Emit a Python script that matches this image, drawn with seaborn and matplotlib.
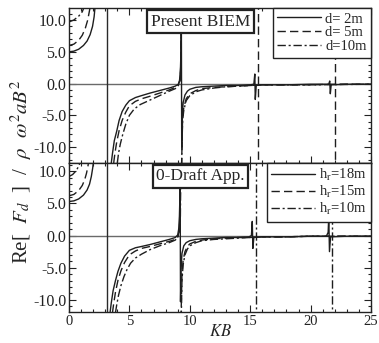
import matplotlib
matplotlib.use("Agg")
import matplotlib.pyplot as plt
import seaborn as sns
import pandas as pd
from matplotlib.lines import Line2D
from matplotlib.ticker import MultipleLocator

# ---------------- data (None separates branches of one curve) ----------------
# Top panel: Present BIEM, draft d
top_kb_d2 = [0, 0.4, 0.8, 1.2, 1.5, 1.75, 1.95, 2.08, 2.18, None,
             3.5, 3.6, 3.75, 3.95, 4.15, 4.4, 4.7, 5.0, 5.5, 6.0, 6.7, 7.5, 8.3, 8.8, 9.05, 9.15, 9.22, 9.27, 9.3, 9.33,
             9.38, 9.45, 9.6, 9.8, 10.0, 10.5, 11.0, 12.0, 13.0, 14.0, 15.0, 15.3, 15.38, 15.42, 15.5, 16.0, 18.0, 20.0,
             21.5, 21.58, 21.63, 21.7, 23.0, 25.0]
top_f_d2 = [5.0, 5.1, 5.4, 6.0, 6.7, 7.7, 9.0, 10.5, 12.5, None,
            -12.5, -11.0, -9.0, -7.5, -5.8, -4.4, -3.4, -2.7, -2.2, -1.9, -1.5, -1.1, -0.7, -0.4, -0.1, 0.5, 2.0, 5.0, 10.5, -10.0,
            -5.0, -3.0, -1.8, -1.2, -0.9, -0.6, -0.5, -0.4, -0.3, -0.3, -0.2, -0.1, 1.5, -2.5, -0.3, -0.2, -0.2, -0.1,
            -0.1, 0.4, -1.6, -0.2, -0.1, -0.1]

top_kb_d5 = [0, 0.4, 0.8, 1.1, 1.35, 1.55, 1.7, 1.8, None,
             3.7, 3.8, 3.95, 4.15, 4.4, 4.7, 5.0, 5.5, 6.0, 6.7, 7.5, 8.3, 8.8, 9.05, 9.18, 9.26, 9.3, None,
             9.32, 9.4, 9.5, 9.7, 10.0, 10.5, 11.0, 12.0, 13.0, 14.0, 15.0, 16.0, 18.0, 20.0, 22.0, 25.0, None,
             15.65, 15.65, None, 22.0, 22.0]
top_f_d5 = [6.0, 6.2, 6.8, 7.6, 8.7, 10.0, 11.5, 12.5, None,
            -12.5, -11.0, -9.2, -7.4, -5.8, -4.5, -3.5, -2.8, -2.4, -2.0, -1.5, -1.0, -0.6, -0.2, 0.5, 3.0, 13.0, None,
            -13.0, -5.5, -3.8, -2.4, -1.6, -1.1, -0.8, -0.6, -0.5, -0.4, -0.3, -0.2, -0.2, -0.2, -0.1, -0.1, None,
            13.0, -13.0, None, 13.0, -13.0]

top_kb_d10 = [0, 0.4, 0.8, 1.1, 1.35, None,
              4.0, 4.1, 4.25, 4.45, 4.7, 5.0, 5.4, 5.9, 6.7, 7.5, 8.3, 8.8, 9.05, 9.2, 9.28, 9.3, None,
              9.32, 9.4, 9.5, 9.7, 10.0, 10.5, 11.0, 12.0, 13.0, 14.0, 15.0, 16.0, 20.0, 25.0]
top_f_d10 = [9.7, 10.0, 10.6, 11.3, 12.5, None,
             -12.5, -11.0, -9.5, -8.0, -6.4, -5.0, -4.0, -3.3, -2.6, -1.9, -1.2, -0.8, -0.3, 0.5, 3.0, 13.0, None,
             -13.0, -6.0, -4.2, -2.7, -1.9, -1.3, -1.0, -0.7, -0.5, -0.4, -0.3, -0.2, -0.2, -0.1]

# Bottom panel: 0-Draft approximation, h_r
bot_kb_h18 = [0, 0.4, 0.8, 1.2, 1.5, 1.7, 1.85, 1.97, 2.05, None,
              3.4, 3.5, 3.65, 3.85, 4.05, 4.3, 4.6, 5.0, 5.5, 6.0, 6.7, 7.5, 8.3, 8.8, 9.0, 9.08, 9.14, 9.18, 9.2, 9.23,
              9.28, 9.35, 9.5, 9.7, 10.0, 10.5, 11.0, 12.0, 13.0, 14.0, 14.9, 15.1, 15.17, 15.22, 15.3, 16.0, 18.0, 20.0,
              21.3, 21.45, 21.5, 21.56, 21.65, 23.0, 25.0]
bot_f_h18 = [5.3, 5.4, 5.7, 6.3, 7.1, 8.0, 9.2, 10.6, 12.0, None,
             -12.0, -10.5, -8.6, -7.0, -5.6, -4.3, -3.2, -2.3, -1.9, -1.7, -1.4, -1.0, -0.6, -0.3, 0.1, 1.0, 3.0, 6.0, 10.0, -10.3,
             -5.0, -2.8, -1.6, -1.1, -0.8, -0.6, -0.5, -0.4, -0.3, -0.3, -0.2, 0.0, 2.2, -2.0, -0.3, -0.2, -0.2, -0.1,
             -0.1, 0.5, 3.0, -2.5, -0.2, -0.1, -0.1]

bot_kb_h15 = [0, 0.4, 0.8, 1.1, 1.3, 1.45, 1.57, 1.66, None,
              3.6, 3.7, 3.85, 4.05, 4.3, 4.6, 5.0, 5.5, 6.0, 6.7, 7.5, 8.3, 8.8, 9.0, 9.12, 9.2, 9.25, None,
              9.27, 9.35, 9.45, 9.6, 9.8, 10.0, 10.5, 11.0, 12.0, 13.0, 14.0, 15.0, 16.0, 18.0, 20.0, 22.0, 25.0]
bot_f_h15 = [6.2, 6.4, 7.0, 7.8, 8.7, 9.7, 10.8, 12.0, None,
             -12.0, -10.6, -8.8, -7.0, -5.5, -4.2, -3.0, -2.4, -2.0, -1.7, -1.3, -0.9, -0.6, -0.2, 0.6, 3.0, 13.0, None,
             -13.0, -6.0, -3.8, -2.5, -1.7, -1.3, -0.9, -0.7, -0.5, -0.4, -0.3, -0.3, -0.2, -0.2, -0.1, -0.1, -0.1]

bot_kb_h10 = [0, 0.3, 0.6, 0.8, 0.95, None,
              3.85, 3.95, 4.1, 4.3, 4.55, 4.8, 5.1, 5.5, 6.0, 6.7, 7.5, 8.3, 8.8, 9.0, 9.15, 9.22, 9.27, None,
              9.29, 9.35, 9.45, 9.6, 9.8, 10.0, 10.5, 11.0, 12.0, 13.0, 14.0, 15.0, 16.0, 18.0, 20.0, 25.0, None,
              15.5, 15.5, None, 21.8, 21.8]
bot_f_h10 = [9.2, 9.5, 10.1, 10.8, 11.5, None,
             -12.0, -10.8, -9.3, -7.8, -6.4, -5.3, -4.3, -3.5, -2.9, -2.2, -1.6, -1.1, -0.7, -0.3, 0.5, 3.0, 13.0, None,
             -13.0, -7.0, -4.5, -3.0, -2.1, -1.6, -1.1, -0.8, -0.6, -0.5, -0.4, -0.3, -0.2, -0.2, -0.1, -0.1, None,
             13.0, -13.0, None, 13.0, -13.0]

ref_kb = [3.14]
top_labels = ["d= 2m", "d= 5m", "d=10m"]
bot_labels = [r"h$_{\mathrm{r}}$=18m", r"h$_{\mathrm{r}}$=15m", r"h$_{\mathrm{r}}$=10m"]
top_title = "Present BIEM"
bot_title = "0-Draft App."
x_ticks = [0, 5, 10, 15, 20, 25]
y_ticks = [-10, -5, 0, 5, 10]
y_ticklabels = ["-10.0", "-5.0", "0.0", "5.0", "10.0"]

# ---------------- styling ----------------
sns.set_style("ticks")
plt.rcParams["font.family"] = ["Liberation Serif", "DejaVu Serif"]
plt.rcParams["mathtext.fontset"] = "stix"

LINE_C = "#1e1e1e"
styles = ["-", (0, (6, 3)), (0, (6, 2, 1.5, 2))]


def to_frame(kb, val):
    rows, unit = [], 0
    for k, v in zip(kb, val):
        if k is None:
            unit += 1
            continue
        rows.append((k, v, unit))
    return pd.DataFrame(rows, columns=["KB", "F", "unit"])


fig = plt.figure(figsize=(3.79, 3.43), dpi=100)
ax1 = fig.add_axes([0.182, 0.5248, 0.797, 0.452])
ax2 = fig.add_axes([0.182, 0.0904, 0.797, 0.4344])

panels = [
    (ax1, [(top_kb_d2, top_f_d2), (top_kb_d5, top_f_d5), (top_kb_d10, top_f_d10)], top_labels, top_title, (-12.5, 11.9)),
    (ax2, [(bot_kb_h18, bot_f_h18), (bot_kb_h15, bot_f_h15), (bot_kb_h10, bot_f_h10)], bot_labels, bot_title, (-11.9, 11.3)),
]

for ax, series, labels, title, ylim in panels:
    ax.axhline(0, color="#6a6a6a", lw=1.0, zorder=1)
    for k in ref_kb:
        ax.axvline(k, color="#2a2a2a", lw=1.0, zorder=1)
    handles = []
    for (kb, f), ls in zip(series, styles):
        df = to_frame(kb, f)
        sns.lineplot(data=df, x="KB", y="F", units="unit", estimator=None, sort=False,
                     ax=ax, color=LINE_C, lw=1.0, linestyle=ls, legend=False)
        handles.append(Line2D([], [], color=LINE_C, lw=1.0, linestyle=ls))
    ax.set_xlim(0, 25)
    ax.set_ylim(*ylim)
    ax.set_xticks(x_ticks)
    ax.set_yticks(y_ticks)
    ax.set_yticklabels(y_ticklabels)
    ax.xaxis.set_minor_locator(MultipleLocator(1))
    ax.yaxis.set_minor_locator(MultipleLocator(1))
    ax.tick_params(which="both", direction="in", top=True, right=True, colors="#222222",
                   labelsize=11.5, pad=2, width=0.8)
    ax.tick_params(axis="x", labelsize=10.5)
    ax.tick_params(which="major", length=5)
    ax.tick_params(which="minor", length=2.5)
    for s in ax.spines.values():
        s.set_linewidth(1.0)
        s.set_color("#222222")
    ax.set_xlabel("")
    ax.set_ylabel("")
    leg = ax.legend(handles, labels, loc="upper right", borderaxespad=0, frameon=True, fancybox=False,
                    edgecolor="#222222", framealpha=1, fontsize=10.5, handlelength=3.0,
                    labelspacing=0.05, borderpad=0.3, handletextpad=0.3)
    leg.get_frame().set_linewidth(1.0)
    ax.text(0.435, 0.91, title, transform=ax.transAxes, ha="center", va="center", fontsize=12.5,
            bbox=dict(boxstyle="square,pad=0.2", facecolor="white", edgecolor="#222222", linewidth=1.6))

ax1.tick_params(labelbottom=False)
ax2.set_xticklabels([str(t) for t in x_ticks])
ax2.set_xlabel(r"$KB$", fontsize=12, labelpad=-3)
fig.text(0.055, 0.5, r"Re[  $F_d$  ]  /  $\rho$  $\omega^2 aB^2$", rotation=90, ha="center", va="center",
         fontsize=15)

fig.savefig("out.png", dpi=100)
